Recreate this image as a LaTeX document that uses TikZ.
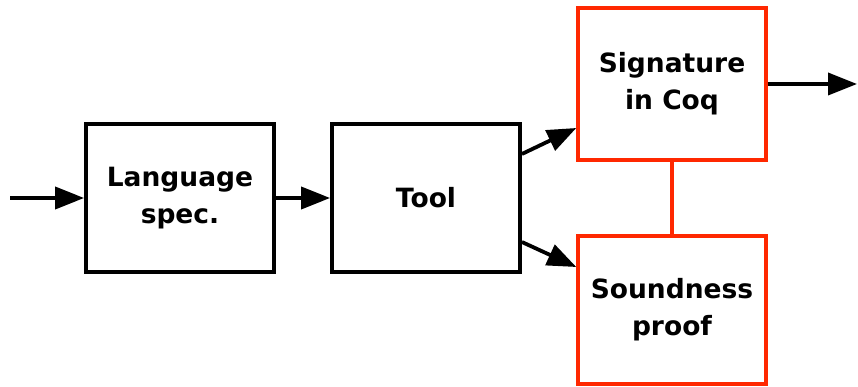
\documentclass[tikz,border=0pt]{standalone}
\usepackage{fontspec}
\setmainfont{DejaVu Sans}
\usetikzlibrary{arrows.meta}
\definecolor{boxred}{RGB}{255,40,0}
\begin{document}
\begin{tikzpicture}[x=1pt,y=-1pt,
  blockbox/.style={draw=black,line width=3.8pt,rectangle,inner sep=0pt,
    minimum width=188pt,minimum height=148pt,align=center,
    font=\fontsize{26.5}{37}\selectfont\bfseries},
  redbox/.style={blockbox,draw=boxred,line width=3.4pt},
  conn/.style={line width=3.8pt,-{Triangle[length=29pt,width=22pt]}},
  redline/.style={draw=boxred,line width=3.4pt}]
\useasboundingbox (0,0) rectangle (858,387);
\node[blockbox] (lang) at (180,198) {Language\\spec.};
\node[blockbox] (tool) at (426,198) {Tool};
\node[redbox,minimum height=152pt] (sig) at (672,84) {Signature\\in Coq};
\node[redbox] (sound) at (672,310) {Soundness\\proof};
\coordinate (in) at (10,198);
\coordinate (out) at (857,84);
\draw[conn] (in) -- (lang.west);
\draw[conn] (lang.east) -- (tool.west);
\draw[conn] ([yshift=44pt]tool.east) -- ([yshift=-44pt]sig.west);
\draw[conn] ([yshift=-44pt]tool.east) -- ([yshift=43pt]sound.west);
\draw[conn] (sig.east) -- (out);
\draw[redline] (sig.south) -- (sound.north);
\end{tikzpicture}
\end{document}
